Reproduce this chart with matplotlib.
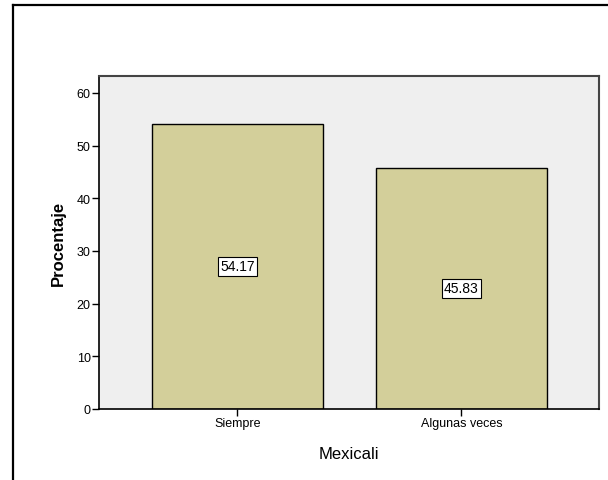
import matplotlib
matplotlib.use('Agg')
import matplotlib.pyplot as plt
from matplotlib.lines import Line2D

plt.rcParams['font.family'] = ['Liberation Sans', 'DejaVu Sans']

categories = ['Siempre', 'Algunas veces']
percentages = [54.17, 45.83]
y_ticks = [0, 10, 20, 30, 40, 50, 60]

fig = plt.figure(figsize=(6.08, 4.81), dpi=100)
W, H = 608, 481
ax = fig.add_axes([99 / W, 1 - 410 / H, 500 / W, 333 / H])
ax.set_facecolor('#EFEFEF')

x = list(range(len(categories)))
ax.bar(x, percentages, width=0.76, color='#D3CF9A', edgecolor='black', linewidth=1.0, zorder=2)

for xi, v in zip(x, percentages):
    ax.text(xi, v / 2, f'{v:.2f}', ha='center', va='center', fontsize=10, zorder=3,
            bbox=dict(boxstyle='square,pad=0.18', facecolor='white', edgecolor='black', linewidth=0.8))

ax.set_xlim(-0.618, 1.614)
ax.set_ylim(0, 63.2)
ax.set_xticks(x)
ax.set_xticklabels(categories, fontsize=9)
ax.set_yticks(y_ticks)
ax.set_yticklabels([str(t) for t in y_ticks], fontsize=9)
ax.tick_params(axis='both', direction='out', length=5, width=1, color='black', pad=1)

for side in ['left', 'bottom']:
    ax.spines[side].set_color('black')
    ax.spines[side].set_linewidth(1.2)
for side in ['top', 'right']:
    ax.spines[side].set_color('#444444')
    ax.spines[side].set_linewidth(1.5)

ax.set_ylabel('Procentaje', fontsize=12, fontweight='bold', labelpad=8)
ax.set_xlabel('Mexicali', fontsize=12, labelpad=12)

# outer chart frame (top and left edges visible)
fig.add_artist(Line2D([13 / W, 1.0], [1 - 6 / H, 1 - 6 / H], transform=fig.transFigure, color='black', linewidth=1.6))
fig.add_artist(Line2D([13 / W, 13 / W], [1 - 6 / H, 0.0], transform=fig.transFigure, color='black', linewidth=1.6))

fig.savefig('out.png', dpi=100, facecolor='white')
